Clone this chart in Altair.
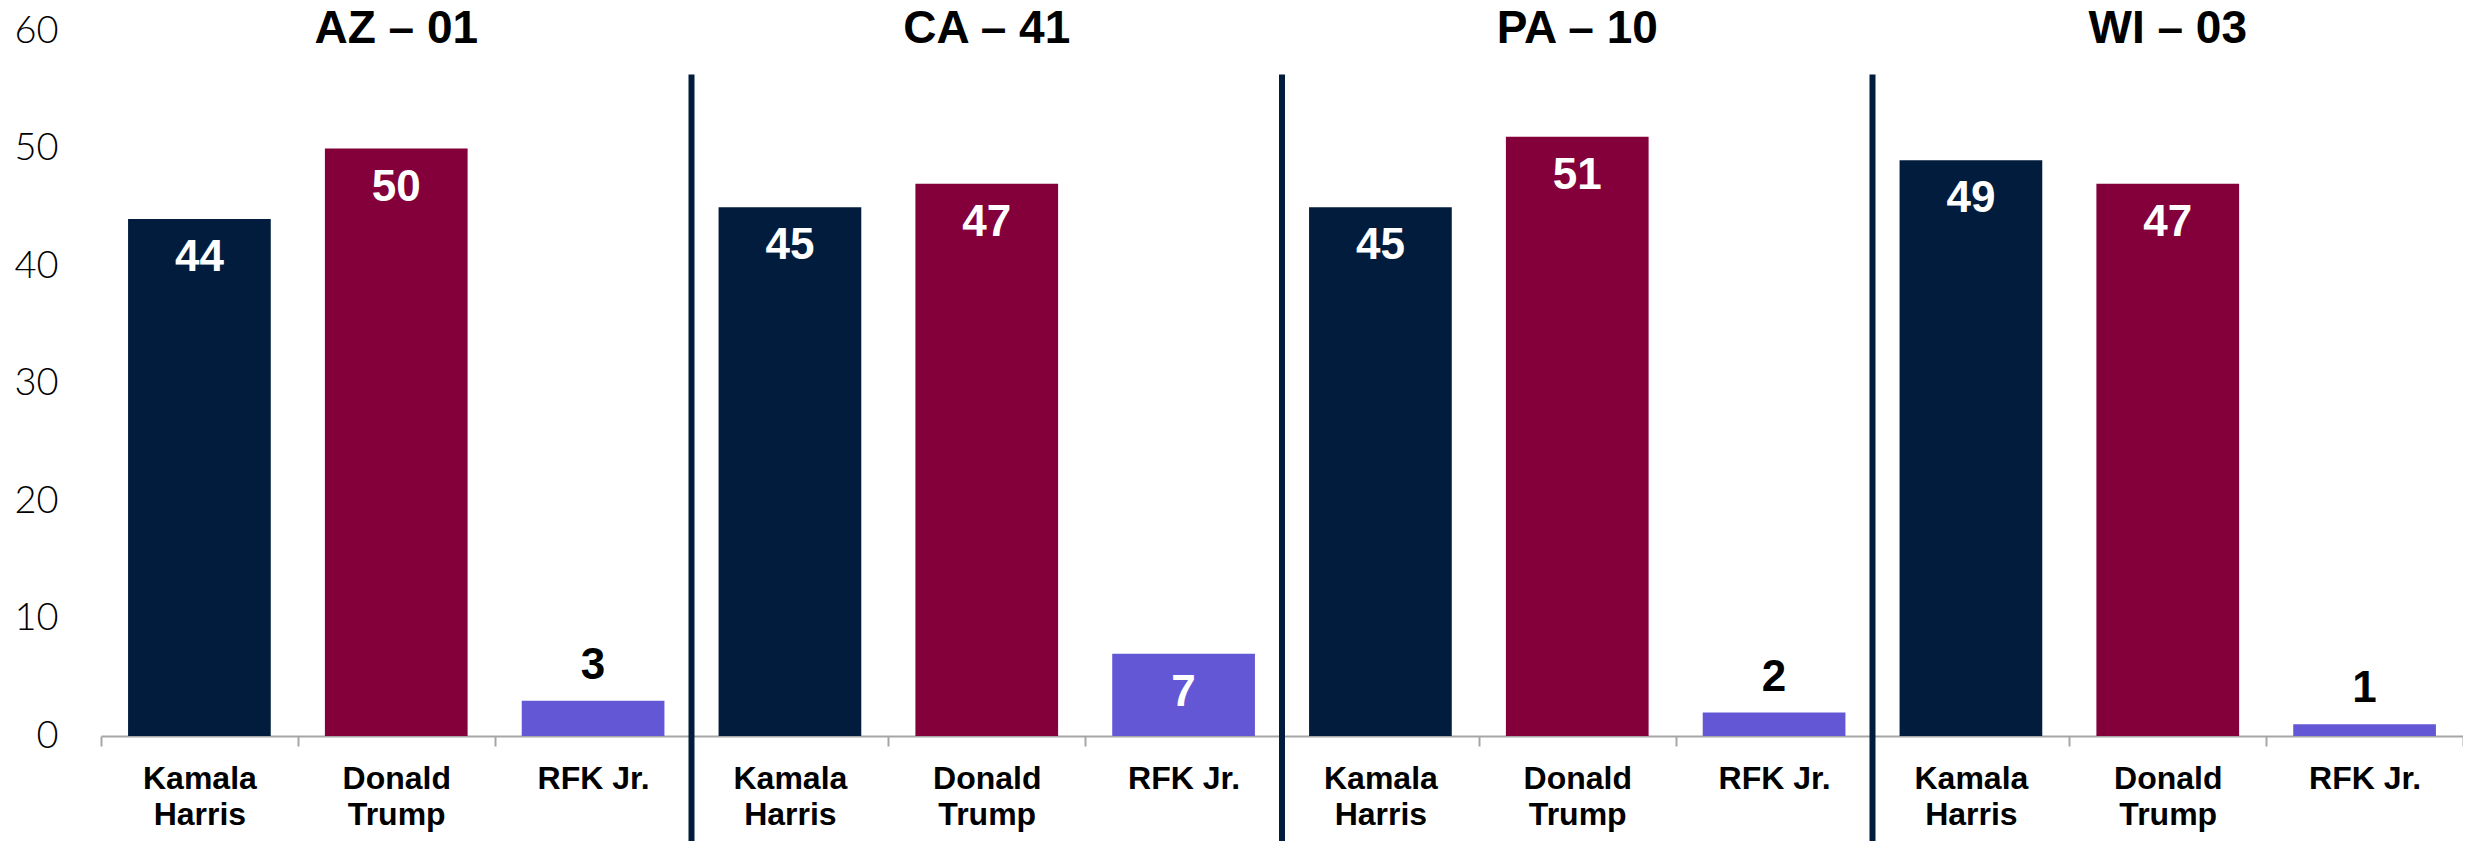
import altair as alt
import pandas as pd

districts = ["AZ – 01", "CA – 41", "PA – 10", "WI – 03"]
candidates = ["Kamala Harris", "Donald Trump", "RFK Jr."]
colors = ["#011C3D", "#84003A", "#6357D5"]
values = {
    "AZ – 01": [44, 50, 3],
    "CA – 41": [45, 47, 7],
    "PA – 10": [45, 51, 2],
    "WI – 03": [49, 47, 1],
}
y_ticks = [0, 10, 20, 30, 40, 50, 60]

rows = []
for gi, d in enumerate(districts):
    for ci, c in enumerate(candidates):
        rows.append({"district": d, "candidate": c, "key": f"{d}|{c}",
                     "value": values[d][ci], "gi": gi, "ci": ci})
df = pd.DataFrame(rows)
keys = list(df["key"])

FONT = "Liberation Sans"
W, H = 2362, 705
SEP_TOP, SEP_BOTTOM = 56.3, -10
INSIDE_MIN = 5

label_expr = ("(!isString(datum.label) || indexof(datum.label,'|') < 0) ? '' : "
              "(indexof(datum.label,'RFK') >= 0 ? split(datum.label,'|')[1] "
              ": split(split(datum.label,'|')[1],' '))")

x = alt.X("key:N", sort=keys, title=None,
          scale=alt.Scale(paddingInner=0, paddingOuter=0),
          axis=alt.Axis(labelExpr=label_expr, labelAngle=0, labelFont=FONT,
                        labelFontSize=32, labelFontWeight="bold", labelColor="black",
                        labelLineHeight=36, labelPadding=17, tickBand="extent",
                        tickSize=10, tickColor="#A6A6A6", tickWidth=2,
                        domainColor="#A6A6A6", domainWidth=2, grid=False))
y = alt.Y("value:Q", title=None,
          scale=alt.Scale(domain=[0, 60], nice=False),
          axis=alt.Axis(values=y_ticks, labelFont="Lato", labelFontWeight=300,
                        labelFontSize=38, labelColor="black", labelPadding=43,
                        ticks=False, domain=False, grid=False))

base = alt.Chart(df)
xs = alt.X("key:N", sort=keys)

bars = base.mark_bar(width=alt.RelativeBandSize(0.725)).encode(
    x=x, y=y,
    color=alt.Color("candidate:N", scale=alt.Scale(domain=candidates, range=colors), legend=None),
)

inside = base.transform_filter(f"datum.value >= {INSIDE_MIN}").mark_text(
    font=FONT, fontSize=44, fontWeight="bold", color="white", baseline="middle", dy=39
).encode(x=xs, y="value:Q", text="value:Q")

above = base.transform_filter(f"datum.value < {INSIDE_MIN}").mark_text(
    font=FONT, fontSize=44, fontWeight="bold", color="black", baseline="middle", dy=-35
).encode(x=xs, y="value:Q", text="value:Q")

titles = base.transform_filter("datum.ci == 1").mark_text(
    font=FONT, fontSize=46, fontWeight="bold", color="black", baseline="middle", dy=-2
).encode(x=xs, y=alt.datum(60), text="district:N")

seps = base.transform_filter("datum.ci == 0 && datum.gi > 0").mark_rule(
    color="#011C3D", strokeWidth=6
).encode(x=alt.X("key:N", sort=keys, bandPosition=0),
         y=alt.datum(SEP_TOP), y2=alt.datum(SEP_BOTTOM))

chart = alt.layer(bars, inside, above, titles, seps).properties(
    width=W, height=H,
    autosize=alt.AutoSizeParams(type="none"),
    padding={"left": 93, "top": 23, "right": 0, "bottom": 105},
    background="white",
).configure_view(stroke=None)

chart.save("out.html", embed_options={"renderer": "svg", "actions": False})
